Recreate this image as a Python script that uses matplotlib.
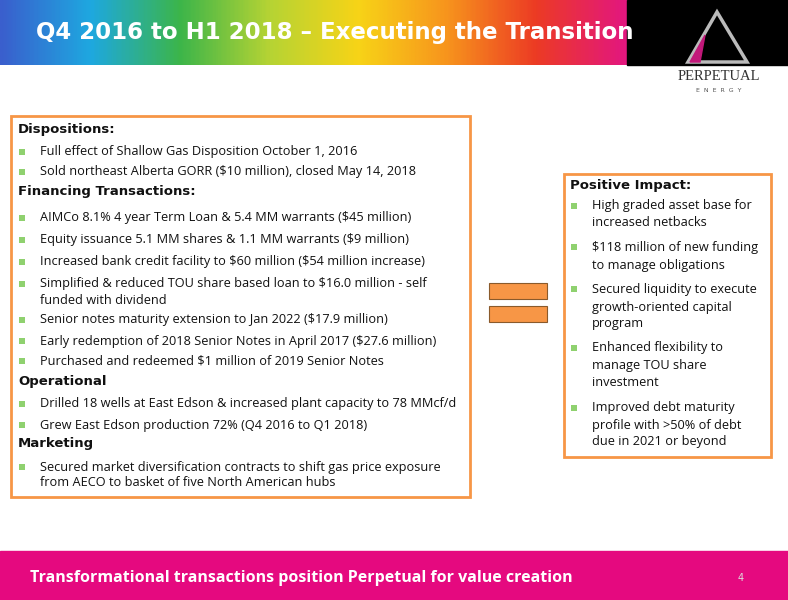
import matplotlib
matplotlib.use("Agg")
import matplotlib.pyplot as plt
import numpy as np
from matplotlib.patches import Rectangle, Polygon
from matplotlib.colors import LinearSegmentedColormap
plt.rcParams['text.parse_math'] = False

title = "Q4 2016 to H1 2018 – Executing the Transition"
footer = "Transformational transactions position Perpetual for value creation"
left_items = [
    ("h", "Dispositions:", 129),
    ("b", "Full effect of Shallow Gas Disposition October 1, 2016", 152),
    ("b", "Sold northeast Alberta GORR ($10 million), closed May 14, 2018", 172),
    ("h", "Financing Transactions:", 192),
    ("b", "AIMCo 8.1% 4 year Term Loan & 5.4 MM warrants ($45 million)", 218),
    ("b", "Equity issuance 5.1 MM shares & 1.1 MM warrants ($9 million)", 240),
    ("b", "Increased bank credit facility to $60 million ($54 million increase)", 262),
    ("b", "Simplified & reduced TOU share based loan to $16.0 million - self", 284),
    ("c", "funded with dividend", 301),
    ("b", "Senior notes maturity extension to Jan 2022 ($17.9 million)", 320),
    ("b", "Early redemption of 2018 Senior Notes in April 2017 ($27.6 million)", 341),
    ("b", "Purchased and redeemed $1 million of 2019 Senior Notes", 361),
    ("h", "Operational", 381),
    ("b", "Drilled 18 wells at East Edson & increased plant capacity to 78 MMcf/d", 404),
    ("b", "Grew East Edson production 72% (Q4 2016 to Q1 2018)", 425),
    ("h", "Marketing", 443),
    ("b", "Secured market diversification contracts to shift gas price exposure", 467),
    ("c", "from AECO to basket of five North American hubs", 483),
]
right_items = [
    ("h", "Positive Impact:", 185),
    ("b", "High graded asset base for", 206), ("c", "increased netbacks", 223),
    ("b", "$118 million of new funding", 247), ("c", "to manage obligations", 265),
    ("b", "Secured liquidity to execute", 289), ("c", "growth-oriented capital", 307), ("c", "program", 324),
    ("b", "Enhanced flexibility to", 348), ("c", "manage TOU share", 366), ("c", "investment", 383),
    ("b", "Improved debt maturity", 408), ("c", "profile with >50% of debt", 425), ("c", "due in 2021 or beyond", 442),
]

fig = plt.figure(figsize=(7.88, 6.0), dpi=100)
ax = fig.add_axes([0, 0, 1, 1])
ax.set_xlim(0, 788); ax.set_ylim(600, 0); ax.axis("off")

grad = np.linspace(0, 1, 400)[None, :]
cm = LinearSegmentedColormap.from_list("r", ["#3a5fcd", "#1ea8e0", "#3cb54a", "#b5d334", "#f7d417", "#f7941d", "#ec3b24", "#e3177f"])
ax.imshow(np.repeat(grad, 10, axis=0), cmap=cm, extent=(0, 627, 65, 0), aspect="auto", zorder=0)
ax.add_patch(Rectangle((627, 0), 161, 65, color="black", zorder=1))
ax.text(36, 33, title, color="white", fontsize=16.5, fontweight="bold", va="center", ha="left",
        family="DejaVu Sans", zorder=3)
ax.add_patch(Polygon([[717, 12], [688, 62], [747, 62]], closed=True, fill=False, ec="#bbbbbb", lw=2.5, zorder=2))
ax.add_patch(Polygon([[705, 35], [690, 62], [700, 62]], closed=True, color="#c2187a", zorder=3))
ax.text(719, 76, "PERPETUAL", ha="center", va="center", fontsize=10.5, family="Liberation Serif", color="#333333")
ax.text(719, 91, "E  N  E  R  G  Y", ha="center", va="center", fontsize=4.5, family="DejaVu Sans", color="#555555")

orange = "#f79646"
ax.add_patch(Rectangle((11, 116), 459, 381, fill=False, ec=orange, lw=2))
ax.add_patch(Rectangle((564, 174), 207, 283, fill=False, ec=orange, lw=2))
ax.add_patch(Rectangle((489, 283), 58, 16, fc=orange, ec="#8a5a2b", lw=0.8))
ax.add_patch(Rectangle((489, 306), 58, 16, fc=orange, ec="#8a5a2b", lw=0.8))

def draw(items, x0):
    for kind, txt, y in items:
        if kind == "h":
            ax.text(x0, y, txt, fontsize=9.5, fontweight="bold", family="DejaVu Sans", va="center", color="#111111")
        else:
            if kind == "b":
                ax.add_patch(Rectangle((x0 + 1, y - 3), 6, 6, color="#8fd16f", lw=0))
            ax.text(x0 + 22, y, txt, fontsize=9.2, family="Open Sans", va="center", color="#111111")

draw(left_items, 18)
draw(right_items, 570)

ax.add_patch(Rectangle((0, 551), 788, 49, color="#e5097f"))
ax.text(30, 578, footer, color="white", fontsize=11.5, fontweight="bold", family="Open Sans", va="center")
ax.text(738, 578, "4", color="#dddddd", fontsize=7, va="center")

fig.savefig("out.png", dpi=100)
